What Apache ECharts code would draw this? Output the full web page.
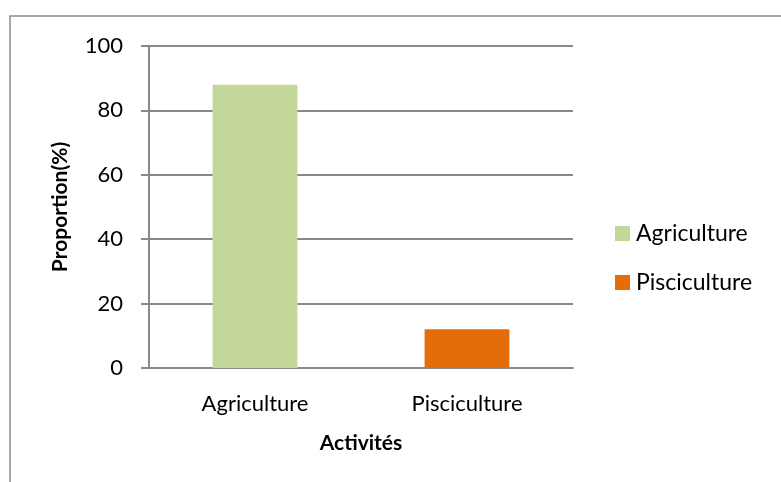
<!DOCTYPE html>
<html>
<head>
<meta charset="utf-8">
<script src="https://cdn.jsdelivr.net/npm/echarts@6/dist/echarts.min.js"></script>
<style>
  html, body { margin: 0; padding: 0; background: #ffffff; }
  #chart { width: 781px; height: 482px; }
</style>
</head>
<body>
<div id="chart"></div>
<script>
// data
const categories = ['Agriculture', 'Pisciculture']
const seriesNames = ['Agriculture', 'Pisciculture']
const values = [88, 12]
const colors = ['#C4D79B', '#E46C0A']

const font = 'Lato, "Open Sans", sans-serif'
const axisGray = '#898989'

const chart = echarts.init(document.getElementById('chart'))

// one series per activity so the legend shows both, stacked so each bar sits centred
const series = seriesNames.map((name, i) => ({
  name: name,
  type: 'bar',
  stack: 'total',
  barWidth: '40%',
  itemStyle: { color: colors[i] },
  data: categories.map((c, j) => (j === i ? values[i] : '-'))
}))

chart.setOption({
  backgroundColor: '#ffffff',
  animation: false,
  graphic: [{
    type: 'rect',
    shape: { x: 10, y: 16, width: 800, height: 500 },
    style: { fill: 'none', stroke: '#8c8c8c', lineWidth: 1.5 }
  }],
  grid: {
    left: 149,
    right: 208,
    top: 46,
    bottom: 114
  },
  legend: {
    orient: 'vertical',
    left: 610,
    top: 217,
    itemWidth: 15,
    itemHeight: 15,
    itemGap: 26,
    icon: 'rect',
    data: seriesNames,
    textStyle: { fontFamily: font, fontSize: 23, color: '#000', lineHeight: 22, padding: [0, 0, 0, 1] }
  },
  xAxis: {
    type: 'category',
    data: categories,
    name: 'Activités',
    nameLocation: 'middle',
    nameGap: 65,
    nameTextStyle: { fontFamily: font, fontSize: 21, fontWeight: 'bold', color: '#000' },
    axisLine: { lineStyle: { color: axisGray, width: 2 } },
    axisTick: { show: false },
    axisLabel: { fontFamily: font, fontSize: 22, color: '#000', margin: 25 }
  },
  yAxis: {
    type: 'value',
    min: 0,
    max: 100,
    interval: 20,
    name: 'Proportion(%)',
    nameLocation: 'middle',
    nameGap: 78,
    nameTextStyle: { fontFamily: font, fontSize: 21, fontWeight: 'bold', color: '#000' },
    axisLine: { show: true, lineStyle: { color: axisGray, width: 2 } },
    axisTick: { show: true, length: 8, lineStyle: { color: axisGray, width: 2 } },
    axisLabel: { fontFamily: font, fontSize: 22, color: '#000', margin: 26 },
    splitLine: { lineStyle: { color: axisGray, width: 2 } }
  },
  series: series
})
</script>
</body>
</html>
